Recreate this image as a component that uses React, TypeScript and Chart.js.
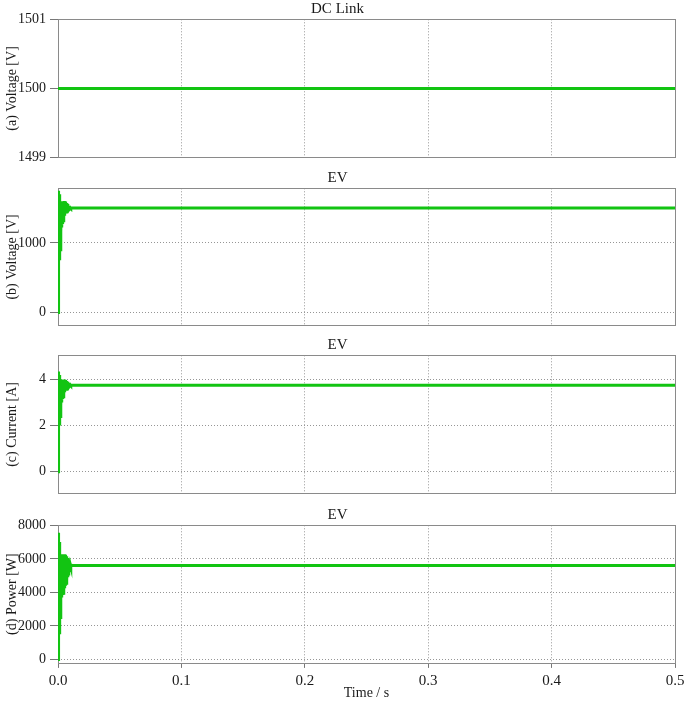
import React, { useEffect, useRef } from "react";
import { Chart, registerables } from "chart.js";

Chart.register(...registerables);

// ---------------- data ----------------
const dcTimes = [0, 0.5];
const dcLinkVoltage = [1500, 1500];

const evTimes = [
  0, 0.0003, 0.0006, 0.0009, 0.0012, 0.0015, 0.0018, 0.0021, 0.0024, 0.0027,
  0.003, 0.0033, 0.0036, 0.0039, 0.0042, 0.0045, 0.0048, 0.0051, 0.0054, 0.0057,
  0.006, 0.0063, 0.0066, 0.0069, 0.0072, 0.0075, 0.0078, 0.0081, 0.0084, 0.0087,
  0.009, 0.0093, 0.0096, 0.0099, 0.0102, 0.0105, 0.012, 0.5,
];

const evVoltage = [
  0, 1750, 700, 1700, 750, 1620, 900, 1580, 1150, 1590,
  1220, 1600, 1270, 1600, 1320, 1600, 1360, 1600, 1390, 1595,
  1420, 1590, 1445, 1575, 1460, 1560, 1470, 1540, 1480, 1525,
  1488, 1512, 1494, 1506, 1497, 1503, 1500, 1500,
];

const evCurrent = [
  0, 4.35, 1.9, 4.2, 2.0, 4.05, 2.4, 3.98, 2.85, 3.98,
  3.0, 4.0, 3.15, 4.0, 3.25, 4.0, 3.35, 4.0, 3.45, 3.98,
  3.52, 3.96, 3.58, 3.93, 3.62, 3.9, 3.66, 3.86, 3.69, 3.82,
  3.71, 3.79, 3.73, 3.77, 3.74, 3.76, 3.75, 3.75,
];

const evPower = [
  0, 7550, 1350, 7000, 1500, 6300, 2500, 6250, 3500, 6250,
  3700, 6280, 3850, 6280, 3950, 6280, 4100, 6280, 4250, 6250,
  4400, 6200, 4550, 6150, 4700, 6050, 4900, 5950, 5100, 5850,
  5300, 5750, 5450, 5680, 5550, 5640, 5600, 5600,
];

const xTicks = [0, 0.1, 0.2, 0.3, 0.4, 0.5];
const yTicksA = [1499, 1500, 1501];
const yTicksB = [0, 1000];
const yTicksC = [0, 2, 4];
const yTicksD = [0, 2000, 4000, 6000, 8000];

const panelTitles = ["DC Link", "EV", "EV", "EV"];
const yTitles = ["(a) Voltage [V]", "(b) Voltage [V]", "(c) Current [A]", "(d) Power [W]"];
const xTitle = "Time / s";

// ---------------- styling ----------------
const FONT = "'Liberation Serif', 'Times New Roman', serif";
const GREEN = "rgb(18, 196, 18)";
const GRID = "#969696";
const FRAME = "#8a8a8a";
const TEXT = "#1a1a1a";

const framePlugin = {
  id: "frame",
  beforeDatasetsDraw(chart: any) {
    const { ctx, chartArea } = chart;
    const { left, top, right, bottom } = chartArea;
    ctx.save();
    ctx.strokeStyle = FRAME;
    ctx.lineWidth = 1;
    ctx.strokeRect(Math.round(left) + 0.5, Math.round(top) + 0.5, Math.round(right - left), Math.round(bottom - top));
    ctx.restore();
  },
};

type PanelSpec = {
  top: number;
  height: number;
  title: string;
  yTitle: string;
  times: number[];
  values: number[];
  yMin: number;
  yMax: number;
  yTicks: number[];
  showX: boolean;
};

const panels: PanelSpec[] = [
  { top: 0, height: 170, title: panelTitles[0], yTitle: yTitles[0], times: dcTimes, values: dcLinkVoltage, yMin: 1499, yMax: 1501, yTicks: yTicksA, showX: false },
  { top: 169, height: 169, title: panelTitles[1], yTitle: yTitles[1], times: evTimes, values: evVoltage, yMin: -190, yMax: 1785, yTicks: yTicksB, showX: false },
  { top: 336, height: 170, title: panelTitles[2], yTitle: yTitles[2], times: evTimes, values: evCurrent, yMin: -0.95, yMax: 5.05, yTicks: yTicksC, showX: false },
  { top: 506, height: 196, title: panelTitles[3], yTitle: yTitles[3], times: evTimes, values: evPower, yMin: -200, yMax: 8000, yTicks: yTicksD, showX: true },
];

function Panel({ spec }: { spec: PanelSpec }) {
  const ref = useRef<HTMLCanvasElement | null>(null);
  useEffect(() => {
    if (!ref.current) return;
    const points = spec.times.map((t, i) => ({ x: t, y: spec.values[i] }));
    const chart = new Chart(ref.current, {
      type: "line",
      data: {
        datasets: [
          {
            data: points,
            borderColor: GREEN,
            backgroundColor: GREEN,
            borderWidth: 3,
            pointRadius: 0,
            tension: 0,
            fill: false,
          },
        ],
      },
      options: {
        animation: false,
        responsive: true,
        maintainAspectRatio: false,
        layout: { padding: { left: 0, right: 10, top: 0, bottom: spec.showX ? 0 : 12 } },
        plugins: {
          legend: { display: false },
          tooltip: { enabled: false },
          title: {
            display: true,
            text: spec.title,
            color: TEXT,
            font: { family: FONT, size: 15, weight: "normal" },
            padding: { top: 0, bottom: 1.3 },
          },
        },
        scales: {
          x: {
            type: "linear",
            min: 0,
            max: 0.5,
            afterBuildTicks: (axis: any) => {
              axis.ticks = xTicks.map((v) => ({ value: v }));
            },
            afterFit: (axis: any) => {
              axis.paddingLeft = 0;
              axis.paddingRight = 0;
            },
            grid: {
              color: GRID,
              lineWidth: 1,
              drawTicks: spec.showX,
              tickLength: 5,
              tickColor: "#777",
              tickBorderDash: [],
            },
            border: { display: false, dash: [1, 2] },
            ticks: {
              display: spec.showX,
              color: TEXT,
              font: { family: FONT, size: 15, lineHeight: 1 },
              padding: 6,
              maxRotation: 0,
              autoSkip: false,
              callback: (v: any) => Number(v).toFixed(1),
            },
            title: {
              display: spec.showX,
              text: xTitle,
              color: TEXT,
              font: { family: FONT, size: 14 },
              padding: { top: -9.7, bottom: 0 },
            },
          },
          y: {
            type: "linear",
            min: spec.yMin,
            max: spec.yMax,
            afterBuildTicks: (axis: any) => {
              axis.ticks = spec.yTicks.map((v) => ({ value: v }));
            },
            afterFit: (axis: any) => {
              axis.width = 58;
            },
            grid: {
              color: GRID,
              lineWidth: 1,
              drawTicks: true,
              tickLength: 8,
              tickColor: "#777",
              tickBorderDash: [],
            },
            border: { display: false, dash: [1, 2] },
            ticks: {
              color: TEXT,
              font: { family: FONT, size: 14 },
              padding: 4,
              autoSkip: false,
              callback: (v: any) => String(v),
            },
            title: {
              display: true,
              text: spec.yTitle,
              color: TEXT,
              font: { family: FONT, size: 14 },
              padding: { top: 4, bottom: 0 },
            },
          },
        },
      },
      plugins: [framePlugin],
    } as any);
    return () => chart.destroy();
  }, [spec]);

  return (
    <div style={{ position: "absolute", left: 0, top: spec.top, width: 685, height: spec.height }}>
      <canvas ref={ref} />
    </div>
  );
}

export default function App() {
  return (
    <div
      style={{
        position: "absolute",
        left: 0,
        top: 0,
        width: 685,
        height: 705,
        background: "#ffffff",
        overflow: "hidden",
      }}
    >
      {panels.map((p, i) => (
        <Panel key={i} spec={p} />
      ))}
    </div>
  );
}
